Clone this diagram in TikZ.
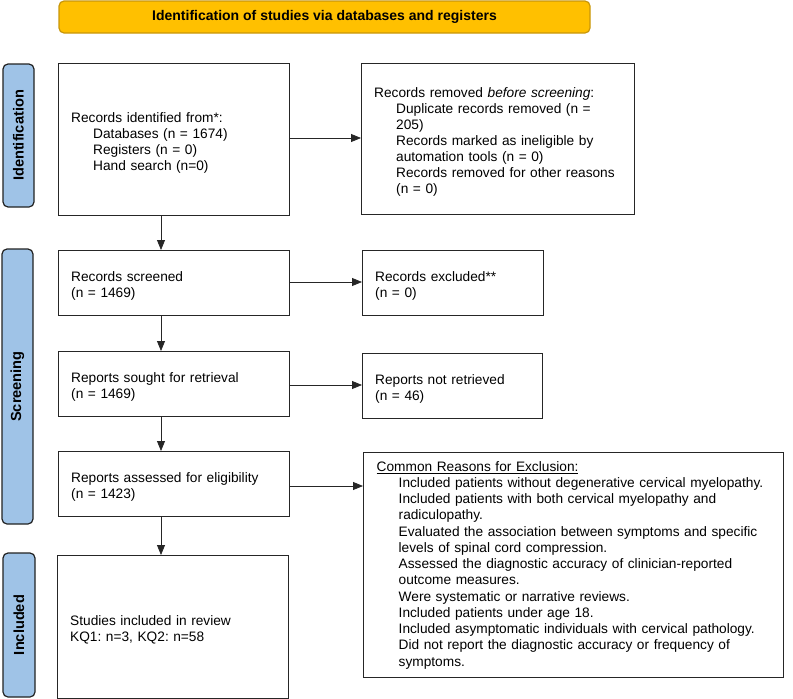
\documentclass[tikz,border=0pt]{standalone}
\usepackage{fontspec}
\setmainfont{Liberation Sans}
\usetikzlibrary{arrows.meta}
\definecolor{bannerfill}{HTML}{FFC000}
\definecolor{bannerdraw}{HTML}{C8960A}
\definecolor{sidefill}{HTML}{9FC3E7}
\definecolor{sidedraw}{HTML}{222222}
\tikzset{
  box/.style={draw=black!85, line width=1.4pt, anchor=north west, align=left,
    inner xsep=12.5pt, inner ysep=4pt, font=\frenchspacing\fontsize{13.7}{16}\selectfont},
  lowered/.style={execute at begin node={\rule{0pt}{16pt}}},
  side/.style={draw=sidedraw, fill=sidefill, line width=1.2pt, rounded corners=5pt,
    rotate=90, font=\bfseries\fontsize{14.6}{16}\selectfont, inner sep=0pt},
  banner/.style={draw=bannerdraw, fill=bannerfill, line width=1.2pt, rounded corners=5pt,
    font=\bfseries\fontsize{14}{16}\selectfont, inner sep=0pt},
  arr/.style={-{Triangle[length=10pt,width=8pt]}, line width=0.8pt, black!85}
}
\newcommand{\ind}{\hspace*{22pt}}
\begin{document}
\begin{tikzpicture}[x=1pt,y=-1pt]
\useasboundingbox (0,0) rectangle (793,699);
% banner
\node[banner, minimum width=531pt, minimum height=32pt] (ban) at (324.5,17) {Identification of studies via databases and registers};
% side labels
\node[side, minimum width=143pt, minimum height=31pt] (sid) at (18.5,135.5) {Identification};
\node[side, minimum width=275pt, minimum height=31pt] (sscr) at (17.5,386.5) {Screening};
\node[side, minimum width=144pt, minimum height=32pt] (sinc) at (19,625) {Included};
% left column
\node[box, lowered, text width=206pt, minimum height=152pt] (b1) at (58,63) {Records identified from*:\\
\ind Databases (n = 1674)\\
\ind Registers (n = 0)\\
\ind Hand search (n=0)};
\node[box, lowered, text width=206pt, minimum height=65pt] (b3) at (58,250) {Records screened\\(n = 1469)};
\node[box, lowered, text width=206pt, minimum height=65pt] (b4) at (58,351) {Reports sought for retrieval\\(n = 1469)};
\node[box, lowered, text width=206pt, minimum height=65pt] (b5) at (58,451) {Reports assessed for eligibility\\(n = 1423)};
\node[box, lowered, text width=206pt, minimum height=143pt] (b6) at (57,555) {Studies included in review\\KQ1: n=3, KQ2: n=58};
% right column
\node[box, lowered, text width=248pt, minimum height=151pt] (r1) at (361,63) {Records removed \textit{before screening}:\\
\ind Duplicate records removed (n =\\
\ind 205)\\
\ind Records marked as ineligible by\\
\ind automation tools (n = 0)\\
\ind Records removed for other reasons\\
\ind (n = 0)};
\node[box, lowered, text width=156pt, minimum height=65pt] (r3) at (362,250) {Records excluded**\\(n = 0)};
\node[box, lowered, text width=155pt, minimum height=65pt] (r4) at (362,353) {Reports not retrieved\\(n = 46)};
\node[box, text width=394pt, minimum height=225pt, inner xsep=13pt, font=\frenchspacing\fontsize{13.7}{16.25}\selectfont] (r5) at (363,452) {\underline{Common Reasons for Exclusion:}\\
\ind Included patients without degenerative cervical myelopathy.\\
\ind Included patients with both cervical myelopathy and\\
\ind radiculopathy.\\
\ind Evaluated the association between symptoms and specific\\
\ind levels of spinal cord compression.\\
\ind Assessed the diagnostic accuracy of clinician-reported\\
\ind outcome measures.\\
\ind Were systematic or narrative reviews.\\
\ind Included patients under age 18.\\
\ind Included asymptomatic individuals with cervical pathology.\\
\ind Did not report the diagnostic accuracy or frequency of\\
\ind symptoms.};
% connectors
\coordinate (vx) at (161,0);
\draw[arr] (b1.south -| vx) -- (b3.north -| vx);
\draw[arr] (b3.south -| vx) -- (b4.north -| vx);
\draw[arr] (b4.south -| vx) -- (b5.north -| vx);
\draw[arr] (b5.south -| vx) -- (b6.north -| vx);
\coordinate (h1) at (0,138);
\coordinate (h3) at (0,282);
\coordinate (h4) at (0,385);
\coordinate (h5) at (0,486);
\draw[arr] (b1.east |- h1) -- (r1.west |- h1);
\draw[arr] (b3.east |- h3) -- (r3.west |- h3);
\draw[arr] (b4.east |- h4) -- (r4.west |- h4);
\draw[arr] (b5.east |- h5) -- (r5.west |- h5);
\end{tikzpicture}
\end{document}
